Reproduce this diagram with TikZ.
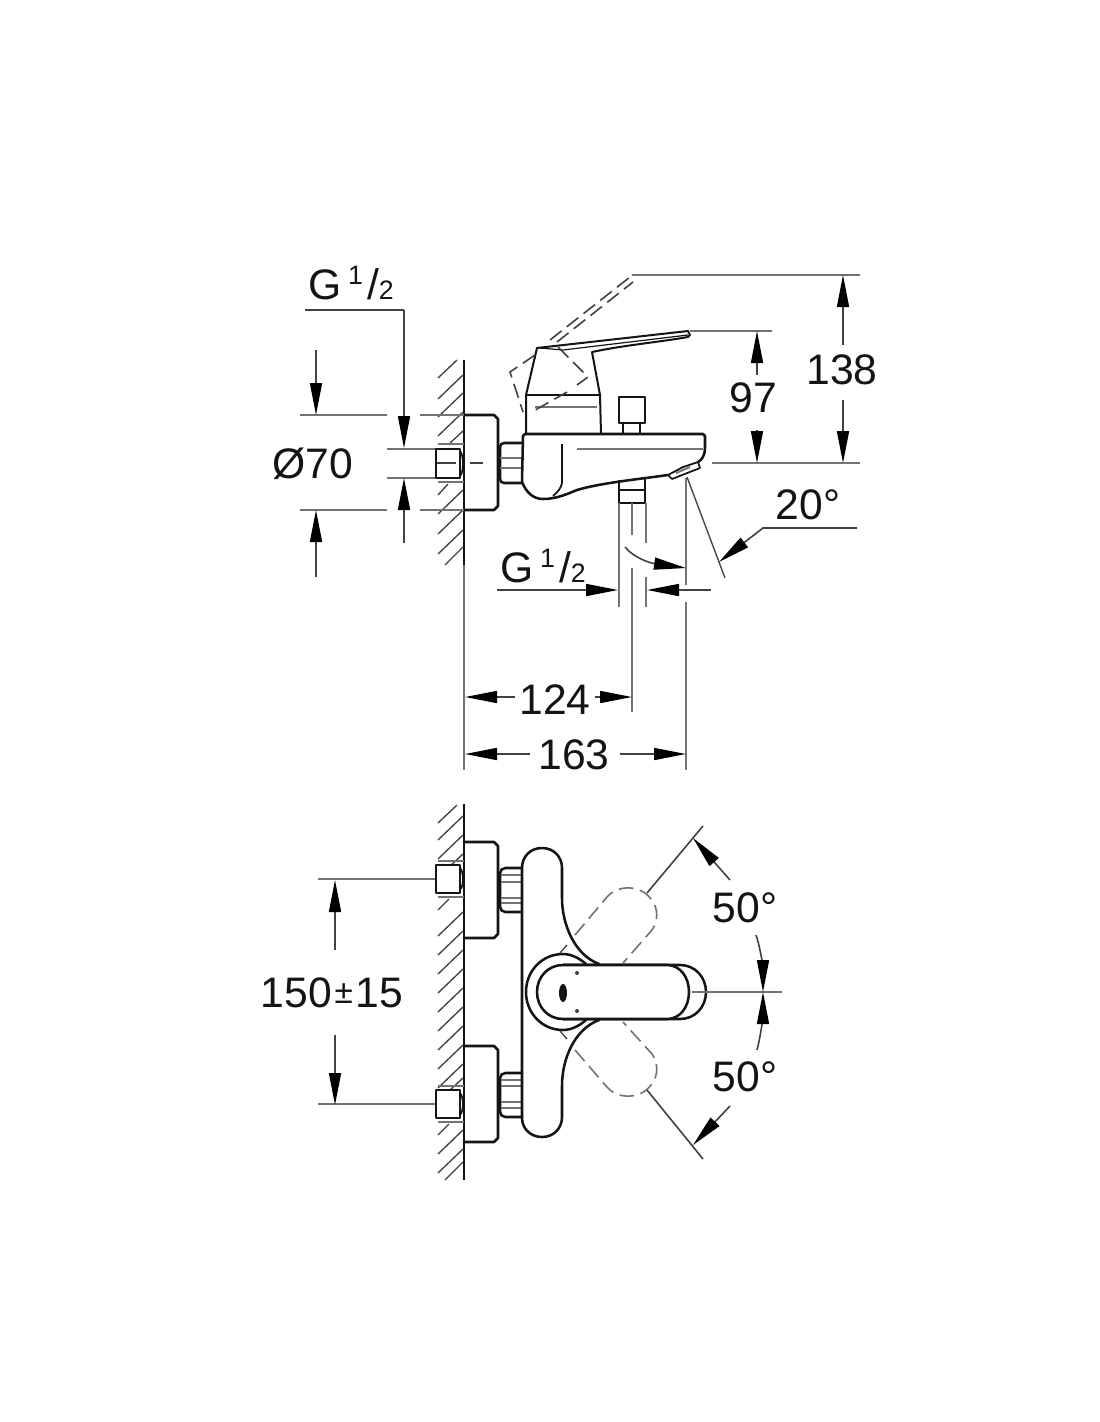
\documentclass[tikz,border=0pt]{standalone}
\usepackage{fontspec}
\setmainfont{Liberation Sans}
\usetikzlibrary{arrows.meta}
\definecolor{inkdark}{RGB}{20,20,20}
\definecolor{inkgray}{RGB}{65,65,65}
\definecolor{inkfaint}{RGB}{115,115,115}
\newcommand{\gasize}{{G\hspace{5pt}\raisebox{11pt}{\fontsize{20}{20}\selectfont 1}\hspace{3pt}/{\fontsize{20}{20}\selectfont 2}}}
\begin{document}
\begin{tikzpicture}[
        x=0.75pt, y=-0.75pt,
        outline/.style={inkdark, line width=1.9pt, line join=round, line cap=round},
        midline/.style={inkdark, line width=1.3pt, line join=round},
        faint/.style={inkfaint, line width=1.5pt},
        hatchline/.style={inkgray, line width=1pt},
        dimline/.style={inkgray, line width=1.2pt},
        dimarrow/.style={dimline, -{Triangle[length=24pt,width=9pt,color=black,fill=black]}},
        phantomline/.style={inkgray, line width=1.2pt, dash pattern=on 11pt off 5pt},
        dimlabel/.style={inner sep=0pt, inkdark, font=\fontsize{32}{32}\selectfont}
    ]
        \useasboundingbox[fill=white] (0,0) rectangle (1100,1422);

        \draw[dimline, inkdark, line width=1.5pt] (464,360) -- (464,565);
        \draw[faint] (464,565) -- (464,770);
        \draw[hatchline] (457,360) -- (438,378);
        \foreach \yh in {375,393,412,490,510,530}
            \draw[hatchline] (463,\yh) -- ++(-25,24);
        \draw[hatchline] (463,431) -- (450,443);
        \draw[hatchline] (448,484) -- (438,495);
        \draw[hatchline] (463,547) -- (445,565);

        \draw[outline] (464,415) -- (494,415) -- (498,419) -- (498,506) -- (494,510) -- (464,510);
        \draw[faint] (300,415) -- (387,415) (420,415) -- (464,415);
        \draw[faint] (300,510) -- (387,510) (420,510) -- (464,510);
        \draw[faint] (387,449) -- (437,449) (387,478) -- (437,478);
        \draw[faint] (438,444) -- (464,444) (438,482) -- (464,482);
        \draw[outline, fill=white] (436,449) rectangle (460,478);
        \draw[midline] (460,451) .. controls (464,455) and (464,472) .. (460,476);
        \draw[hatchline] (437,463) -- (456,463) (470,463) -- (483,463);
        \draw[faint] (712,463) -- (860,463);

        \draw[outline, rounded corners=3pt] (522,443) -- (500,443) -- (500,483) -- (522,483);
        \draw[faint] (500,458) -- (522,458) (500,468) -- (522,468);

        \draw[outline] (522,482) -- (523,436) -- (525,434) -- (703,434) -- (705,436) -- (705,448) .. controls (705,455) and (702,460) .. (698,462);
        \draw[outline] (668,475) .. controls (640,479) and (600,483) .. (577,490) .. controls (565,495) and (555,499) .. (543,499) .. controls (533,499) and (526,492) .. (522,482);
        \draw[midline] (668,475) -- (672,479) -- (700,468) -- (698,462) -- (683,467) -- cycle;
        \draw[faint] (676,473) -- (690,467);
        \draw[midline] (562,444) -- (562,483) .. controls (561,488) and (558,492) .. (553,496);
        \draw[faint] (577,449) -- (703,449);

        \draw[midline, line width=1.5pt] (526,434) -- (526,395) -- (537,348) -- (688,331) -- (690,335) -- (688,337) .. controls (660,342) and (625,345) .. (592,352) -- (600,395) -- (601,434);
        \draw[midline, line width=1.5pt] (526,395) -- (600,395);
        \draw[midline, line width=0.9pt] (540,348) -- (563,350) -- (688,335);
        \draw[faint] (535,407) -- (597,407);

        \draw[phantomline] (550,340) -- (630,277);
        \draw[phantomline] (557,342) -- (633,282);
        \draw[faint] (632,275) -- (860,275) (690,331) -- (772,331);
        \draw[phantomline] (535,355) -- (510,372) -- (523,412);
        \draw[phantomline] (558,347) -- (588,377) -- (577,385);
        \draw[phantomline] (567,392) -- (530,413);

        \draw[outline] (619,423) -- (619,397) -- (645,397) -- (645,423) -- cycle;
        \draw[midline] (623,423) -- (623,434) (640,423) -- (640,434);
        \draw[outline] (619,490) rectangle (645,503);
        \draw[midline] (619,480) -- (619,490) (645,479) -- (645,490);

        \draw[faint] (619,503) -- (619,607) (646,503) -- (646,543) (646,577) -- (646,607);
        \draw[faint] (632,503) -- (632,535) (632,568) -- (632,712) (686,478) -- (686,585) (686,602) -- (686,770);

        \draw[dimarrow] (625,547) .. controls (634,558) and (650,563) .. (686,568);
        \draw[hatchline] (687,477) -- (725,578);
        \draw[dimarrow] (857,528) -- (763,528) -- (719,562);

        \draw[dimarrow] (497,590) -- (618,590);
        \draw[dimarrow] (711,590) -- (647,590);
        \node[dimlabel] (sizeoutlet) at (543,566) {\gasize};

        \draw[dimline] (305,310) -- (404,310);
        \draw[dimarrow] (404,310) -- (404,448);
        \draw[dimarrow] (404,543) -- (404,478);
        \draw[dimarrow] (316,350) -- (316,415);
        \draw[dimarrow] (316,577) -- (316,510);
        \node[dimlabel] (sizeinlet) at (351,283) {\gasize};
        \node[dimlabel] (diameter) at (313,464) {Ø70};

        \draw[dimarrow] (843,345) -- (843,275);
        \draw[dimarrow] (843,400) -- (843,463);
        \node[dimlabel] (heighttotal) at (842,370) {138};
        \draw[dimarrow] (757,375) -- (757,331);
        \draw[dimarrow] (757,430) -- (757,463);
        \node[dimlabel] (heightlever) at (753,398) {97};

        \draw[dimarrow] (515,697) -- (465,697);
        \draw[dimarrow] (595,697) -- (632,697);
        \node[dimlabel] (spacingdiverter) at (555,700) {124};
        \draw[dimarrow] (530,754) -- (465,754);
        \draw[dimarrow] (620,754) -- (686,754);
        \node[dimlabel] (spacingspout) at (574,755) {163};

        \draw[dimline, inkdark, line width=1.5pt] (464,804) -- (464,1180);
        \draw[hatchline] (457,805) -- (438,823);
        \foreach \yh in {816,835,912,931,950,969,988,1007,1026,1045,1064,1130,1149}
            \draw[hatchline] (463,\yh) -- ++(-25,24);
        \draw[hatchline] (463,854) -- (450,866);
        \draw[hatchline] (463,1078) -- (450,1090);
        \draw[hatchline] (449,899) -- (438,910);
        \draw[hatchline] (449,1124) -- (438,1135);
        \draw[hatchline] (463,1162) -- (445,1180);

        \foreach \ny/\ey/\hy in {879/842/868,1104/1046/1073} {
            \draw[faint] (318,\ny) -- (435,\ny);
            \draw[faint] (438,\ny-18) -- (464,\ny-18) (438,\ny+18) -- (464,\ny+18);
            \draw[outline, fill=white] (436,\ny-14) rectangle (460,\ny+14);
            \draw[midline] (460,\ny-11) .. controls (464,\ny-7) and (464,\ny+7) .. (460,\ny+11);
            \draw[outline] (464,\ey) -- (494,\ey) -- (498,\ey+4) -- (498,\ey+92) -- (494,\ey+96) -- (464,\ey+96);
            \draw[outline, rounded corners=4pt] (522,\hy) -- (500,\hy) -- (500,\hy+44) -- (522,\hy+44);
        }
        \draw[faint] (501,875) -- (522,875) (501,882) -- (522,882) (501,898) -- (522,898) (501,903) -- (522,903);
        \draw[faint] (501,1080) -- (522,1080) (501,1086) -- (522,1086) (501,1102) -- (522,1102) (501,1108) -- (522,1108);

        \draw[outline] (522,1118) -- (522,868) .. controls (522,857) and (530,848) .. (542,848) .. controls (554,848) and (562,857) .. (562,868) -- (562,898) .. controls (562,925) and (575,955) .. (599,964);
        \draw[outline] (599,1020) .. controls (575,1029) and (562,1058) .. (562,1086) -- (562,1117) .. controls (562,1128) and (554,1137) .. (542,1137) .. controls (530,1137) and (522,1128) .. (522,1118);
        \draw[outline, fill=white] (586,964) .. controls (578,957) and (570,954) .. (563,954) .. controls (542,954) and (526,971) .. (526,992) .. controls (526,1013) and (542,1030) .. (563,1030) .. controls (570,1030) and (578,1027) .. (586,1020);
        \draw[outline, fill=white] (680,965) .. controls (695,965) and (706,977) .. (706,992) .. controls (706,1007) and (695,1019) .. (680,1019) -- (563,1019) -- (563,965) -- cycle;
        \draw[outline, fill=white] (667,965) .. controls (680,965) and (689,977) .. (689,992) .. controls (689,1007) and (680,1019) .. (667,1019) -- (563,1019) .. controls (548,1019) and (537,1007) .. (537,992) .. controls (537,977) and (548,965) .. (563,965) -- cycle;
        \fill[inkdark] (563,993) ellipse [x radius=4, y radius=9];
        \fill[inkgray] (577,973) circle (2) (577,1011) circle (2);

        \draw[phantomline, inkfaint] (575,935) -- (607,897) .. controls (617,885) and (640,884) .. (651,899) .. controls (659,909) and (658,921) .. (652,930) -- (623,963);
        \draw[phantomline, inkfaint] (575,1050) -- (607,1087) .. controls (617,1099) and (640,1100) .. (651,1085) .. controls (659,1075) and (658,1063) .. (652,1054) -- (623,1022);
        \draw[hatchline] (560,953) -- (567,945) (560,1031) -- (567,1039);

        \draw[dimline] (647,893) -- (703,826);
        \draw[dimline] (647,1090) -- (703,1159);
        \draw[dimarrow] (730,880) -- (693,838);
        \draw[dimarrow] (730,1106) -- (693,1145);
        \draw[faint] (692,992) -- (782,992);
        \draw[dimarrow] (756,935) .. controls (761,950) and (763,970) .. (763,992);
        \draw[dimarrow] (757,1050) .. controls (761,1035) and (763,1014) .. (763,992);
        \node[dimlabel] (anglehigh) at (745,908) {50°};
        \node[dimlabel] (anglelow) at (745,1077) {50°};

        \draw[dimarrow] (335,950) -- (335,880);
        \draw[dimarrow] (335,1035) -- (335,1105);
        \node[dimlabel] (spacinginlets) at (332,993) {150\hspace{2pt}\raisebox{3pt}{\fontsize{25}{25}\selectfont ±}\hspace{2pt}15};

        \node[dimlabel] (angleoutlet) at (808,505) {20°};
    \end{tikzpicture}
\end{document}
